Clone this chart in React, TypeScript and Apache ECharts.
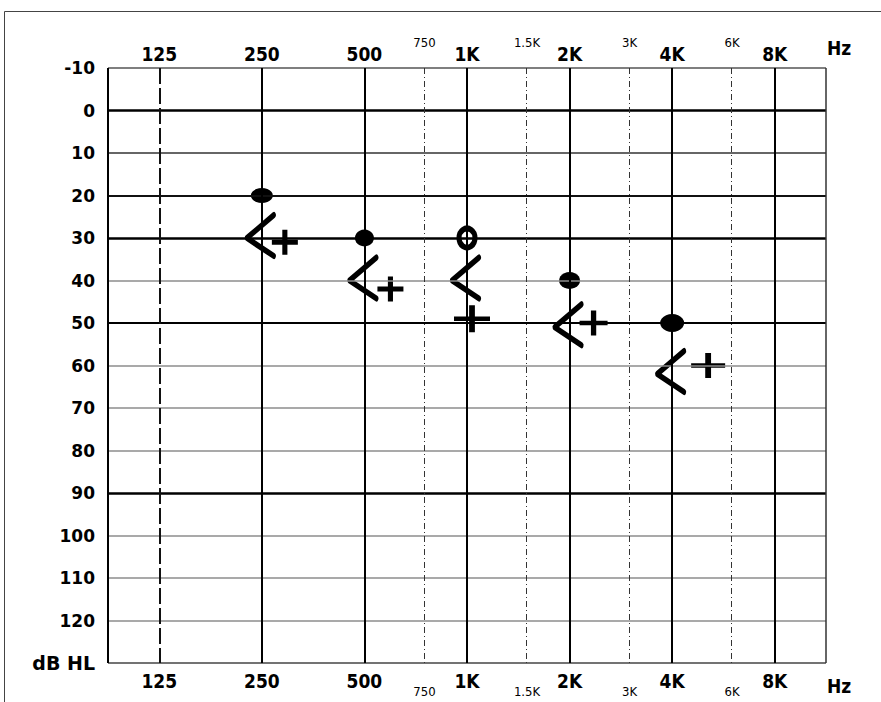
import React, { useEffect, useRef } from "react";
import * as echarts from "echarts";

// ---- data ----
const mainFreqs = [125, 250, 500, 1000, 2000, 4000, 8000];
const mainFreqLabels = ["125", "250", "500", "1K", "2K", "4K", "8K"];
const midFreqs = [750, 1500, 3000, 6000];
const midFreqLabels = ["750", "1.5K", "3K", "6K"];
const testFreqs = [250, 500, 1000, 2000, 4000];
const circleDb = [20, 30, 30, 40, 50];
const bracketDb = [30, 40, 40, 51, 62];
const crossDb = [31, 42, 49, 50, 60];
const dbMin = -10;
const dbMax = 130;
const dbStep = 10;

// ---- styles ----
const circleSizes = [[22, 15], [19, 17], [16, 19], [21, 17], [24, 18]];
const crossSizes = [[26, 25], [26, 25], [36, 27], [28, 25], [34, 25]];
const crossOffsets = [[23, 0], [26, 0], [5, 0], [24, 0], [36, 0]];

const oct = (f: number) => Math.log2(f / 125);
const near = (a: number, b: number) => Math.abs(a - b) < 1e-6;

const hStyle = (db: number) => {
  const m: Record<number, [string, number]> = {
    [-10]: ["#555", 1.5],
    0: ["#000", 2.5],
    10: ["#333", 1.5],
    20: ["#111", 2],
    30: ["#000", 2.5],
    50: ["#000", 2],
    90: ["#000", 2.5],
    130: ["#444", 1.5],
  };
  const s = m[db] || ["#8c8c8c", 1.5];
  return { color: s[0], width: s[1], type: "solid" };
};

export default function App() {
  const ref = useRef<HTMLDivElement>(null);
  useEffect(() => {
    document.body.style.margin = "0";
    const chart = echarts.init(ref.current!, null, { renderer: "svg" });

    const mainFont = "'DejaVu Sans Condensed', 'Liberation Sans Narrow', 'DejaVu Sans', sans-serif";
    const xMin = oct(125) - 0.5;
    const xMax = oct(8000) + 0.5;
    const mainVals = mainFreqs.map(oct);
    const midVals = midFreqs.map(oct);
    const fmtMain = (v: number) => {
      const i = mainVals.findIndex((x) => near(x, v));
      return i >= 0 ? mainFreqLabels[i] : "";
    };
    const fmtMid = (v: number) => {
      const i = midVals.findIndex((x) => near(x, v));
      return i >= 0 ? midFreqLabels[i] : "";
    };
    const baseX = (position: string, vals: number[], fmt: any, margin: number, size: number, bold: boolean) => ({
      type: "value",
      position,
      min: xMin,
      max: xMax,
      axisLine: { show: false },
      axisTick: { show: false },
      splitLine: { show: false },
      axisLabel: {
        customValues: vals,
        formatter: fmt,
        margin,
        color: "#000",
        fontSize: size,
        fontWeight: bold ? "bold" : "normal",
        fontFamily: mainFont,
        showMinLabel: true,
        showMaxLabel: true,
      },
    });

    const hLines: any[] = [];
    for (let db = dbMin; db <= dbMax; db += dbStep) {
      hLines.push({ yAxis: db, lineStyle: hStyle(db) });
    }
    const vLines: any[] = [];
    vLines.push({ xAxis: xMin, lineStyle: { color: "#000", width: 2, type: "solid" } });
    vLines.push({ xAxis: xMax, lineStyle: { color: "#333", width: 1.5, type: "solid" } });
    mainVals.forEach((v, i) => {
      vLines.push({
        xAxis: v,
        lineStyle: i === 0
          ? { color: "#111", width: 2, type: [16, 4] }
          : { color: "#000", width: 2, type: "solid" },
      });
    });
    midVals.forEach((v) => {
      vLines.push({ xAxis: v, lineStyle: { color: "#333", width: 1, type: [6, 3, 1, 3] } });
    });

    const option: any = {
      animation: false,
      grid: { left: 108, right: 55, top: 68, bottom: 39 },
      xAxis: [
        baseX("top", mainVals, fmtMain, 5, 19, true),
        baseX("top", midVals, fmtMid, 19, 13, false),
        baseX("bottom", mainVals, fmtMain, 8, 19, true),
        baseX("bottom", midVals, fmtMid, 22, 13, false),
      ],
      yAxis: {
        type: "value",
        inverse: true,
        min: dbMin,
        max: dbMax,
        interval: dbStep,
        axisLine: { show: false },
        axisTick: { show: false },
        splitLine: { show: false },
        axisLabel: {
          margin: 13,
          color: "#000",
          fontSize: 17,
          fontWeight: "bold",
          fontFamily: "'DejaVu Sans', Verdana, sans-serif",
          showMinLabel: true,
          showMaxLabel: true,
          formatter: (v: number) => (v === dbMax ? "{hl|dB HL}" : String(v)),
          rich: {
            hl: { fontSize: 19, fontWeight: "bold", color: "#000", fontFamily: "'DejaVu Sans', Verdana, sans-serif" },
          },
        },
      },
      graphic: [
        {
          type: "rect",
          shape: { x: 4.5, y: 11.5, width: 1000, height: 1000 },
          style: { fill: "none", stroke: "#444", lineWidth: 1 },
          silent: true,
        },
        {
          type: "text",
          x: 839,
          y: 48,
          style: { text: "Hz", fill: "#000", font: "bold 19px " + mainFont, align: "center", verticalAlign: "middle" },
        },
        {
          type: "text",
          x: 839,
          y: 686,
          style: { text: "Hz", fill: "#000", font: "bold 19px " + mainFont, align: "center", verticalAlign: "middle" },
        },
      ],
      series: [
        {
          type: "scatter",
          data: [],
          z: 1,
          silent: true,
          markLine: {
            silent: true,
            symbol: ["none", "none"],
            label: { show: false },
            animation: false,
            data: [...hLines, ...vLines],
          },
        },
        {
          type: "scatter",
          z: 3,
          symbol: "circle",
          itemStyle: { color: "#000", opacity: 1 },
          data: testFreqs.map((f, i) => ({
            value: [oct(f), circleDb[i]],
            symbolSize: circleSizes[i],
            itemStyle: i === 2 ? { color: "#fff", borderColor: "#000", borderWidth: 5.5, opacity: 1 } : undefined,
          })),
        },
        {
          type: "scatter",
          z: 3,
          symbol: "path://M27,0 L0,23 L27,41",
          symbolSize: [27, 41],
          symbolOffset: [-1.5, -2.5],
          itemStyle: {
            color: "rgba(0,0,0,0)",
            borderColor: "#000",
            borderWidth: 5,
            borderCap: "round",
            borderJoin: "round",
            opacity: 1,
          },
          data: testFreqs.map((f, i) => [oct(f), bracketDb[i]]),
        },
        {
          type: "scatter",
          z: 3,
          symbol: "path://M0,12 L24,12 M12,0 L12,24",
          itemStyle: {
            color: "rgba(0,0,0,0)",
            borderColor: "#000",
            borderWidth: 5,
            borderCap: "butt",
            opacity: 1,
          },
          data: testFreqs.map((f, i) => ({
            value: [oct(f), crossDb[i]],
            symbolSize: crossSizes[i],
            symbolOffset: crossOffsets[i],
          })),
        },
      ],
    };
    chart.setOption(option);
    return () => chart.dispose();
  }, []);
  return <div ref={ref} style={{ width: 881, height: 702 }} />;
}
